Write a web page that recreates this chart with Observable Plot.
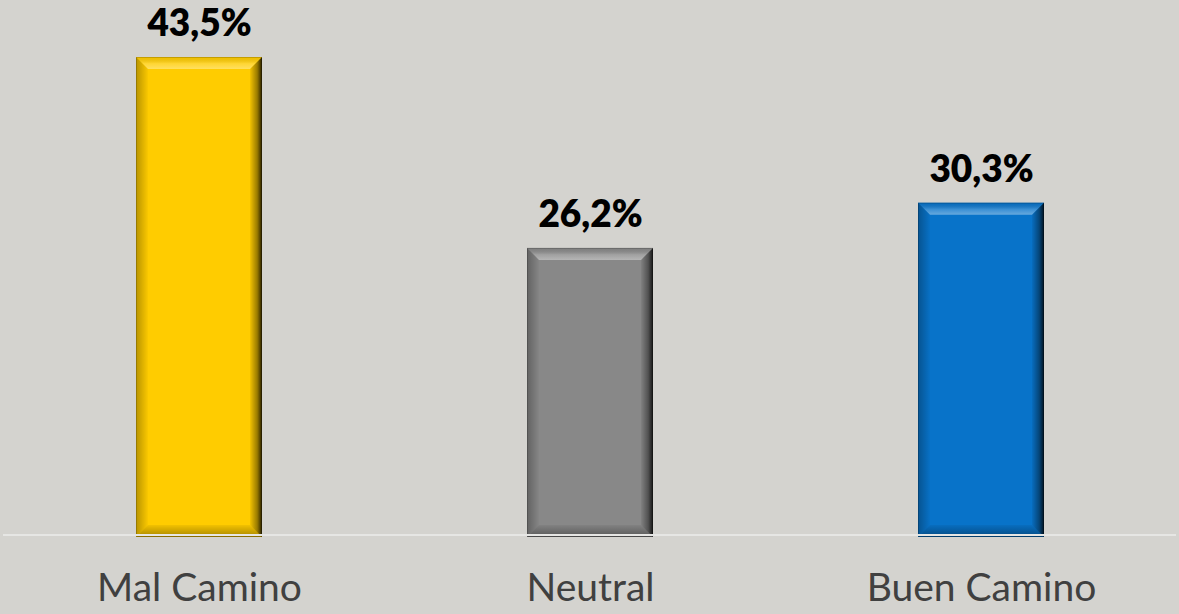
<!DOCTYPE html>
<html>
<head>
<meta charset="utf-8">
<script src="https://cdn.jsdelivr.net/npm/d3@7"></script>
<script src="https://cdn.jsdelivr.net/npm/@observablehq/plot@0.6"></script>
<style>
  html, body { margin: 0; padding: 0; background: #d4d3cf; }
  #chart svg { display: block; }
</style>
</head>
<body>
<div id="chart"></div>
<script>
const categories = ["Mal Camino", "Neutral", "Buen Camino"];
const values = [43.5, 26.2, 30.3];
const labels = ["43,5%", "26,2%", "30,3%"];
const colors = ["#FFCC00", "#888888", "#0873C9"];

const data = categories.map((c, i) => ({category: c, value: values[i], label: labels[i], color: colors[i]}));

const plot = Plot.plot({
  width: 1179,
  height: 614,
  marginTop: 57,
  marginBottom: 77,
  marginLeft: 3,
  marginRight: 3,
  style: {background: "#d4d3cf", overflow: "visible"},
  x: {domain: categories, paddingInner: 0.678, paddingOuter: 0.339, label: null},
  y: {domain: [0, 43.5], axis: null},
  marks: [
    Plot.barY(data, {x: "category", y: "value", fill: "color", className: "bevelbar"}),
    Plot.ruleY([0], {stroke: "#e6e6e4", strokeWidth: 2, dy: -2.5}),
    Plot.text(data, {x: "category", y: "value", text: "label", dy: -33, fontSize: 37, fontWeight: 800, fill: "#000", fontFamily: "Lato"}),
    Plot.axisX({tickSize: 0, tickPadding: 36, fontSize: 39, fontFamily: "Lato", fill: "#404040", label: null})
  ]
});

document.getElementById("chart").appendChild(plot);

// bevel gradients
const svg = d3.select(plot);
const defs = svg.insert("defs", ":first-child");
function grad(id, x1, y1, x2, y2, stops) {
  const g = defs.append("linearGradient").attr("id", id)
    .attr("x1", x1).attr("y1", y1).attr("x2", x2).attr("y2", y2);
  stops.forEach(([o, c, op]) => g.append("stop").attr("offset", o).attr("stop-color", c).attr("stop-opacity", op));
}
grad("bv-top", 0, 0, 0, 1, [[0, "#000", 0.05], [0.55, "#fff", 0.2], [1, "#fff", 0.38]]);
grad("bv-left", 0, 0, 1, 0, [[0, "#000", 0.28], [1, "#000", 0.02]]);
grad("bv-right", 0, 0, 1, 0, [[0, "#000", 0.05], [0.6, "#000", 0.4], [1, "#000", 0.85]]);
grad("bv-bottom", 0, 0, 0, 1, [[0, "#000", 0.05], [1, "#000", 0.35]]);

svg.selectAll("g.bevelbar rect").each(function() {
  const r = d3.select(this);
  const x0 = +r.attr("x"), y0 = +r.attr("y"), w = +r.attr("width"), h = +r.attr("height");
  const x1 = x0 + w, y1 = y0 + h, b = 12;
  const g = d3.select(this.parentNode);
  g.append("polygon").attr("points", `${x0},${y0} ${x1},${y0} ${x1-b},${y0+b} ${x0+b},${y0+b}`).attr("fill", "url(#bv-top)");
  g.append("polygon").attr("points", `${x0},${y0} ${x0+b},${y0+b} ${x0+b},${y1-b} ${x0},${y1}`).attr("fill", "url(#bv-left)");
  g.append("polygon").attr("points", `${x1},${y0} ${x1},${y1} ${x1-b},${y1-b} ${x1-b},${y0+b}`).attr("fill", "url(#bv-right)");
  g.append("polygon").attr("points", `${x0},${y1} ${x0+b},${y1-b} ${x1-b},${y1-b} ${x1},${y1}`).attr("fill", "url(#bv-bottom)");
  g.append("rect").attr("x", x0 + 0.5).attr("y", y0 + 0.5).attr("width", w - 1).attr("height", h - 1)
    .attr("fill", "none").attr("stroke", "#000").attr("stroke-opacity", 0.18);
});
</script>
</body>
</html>
